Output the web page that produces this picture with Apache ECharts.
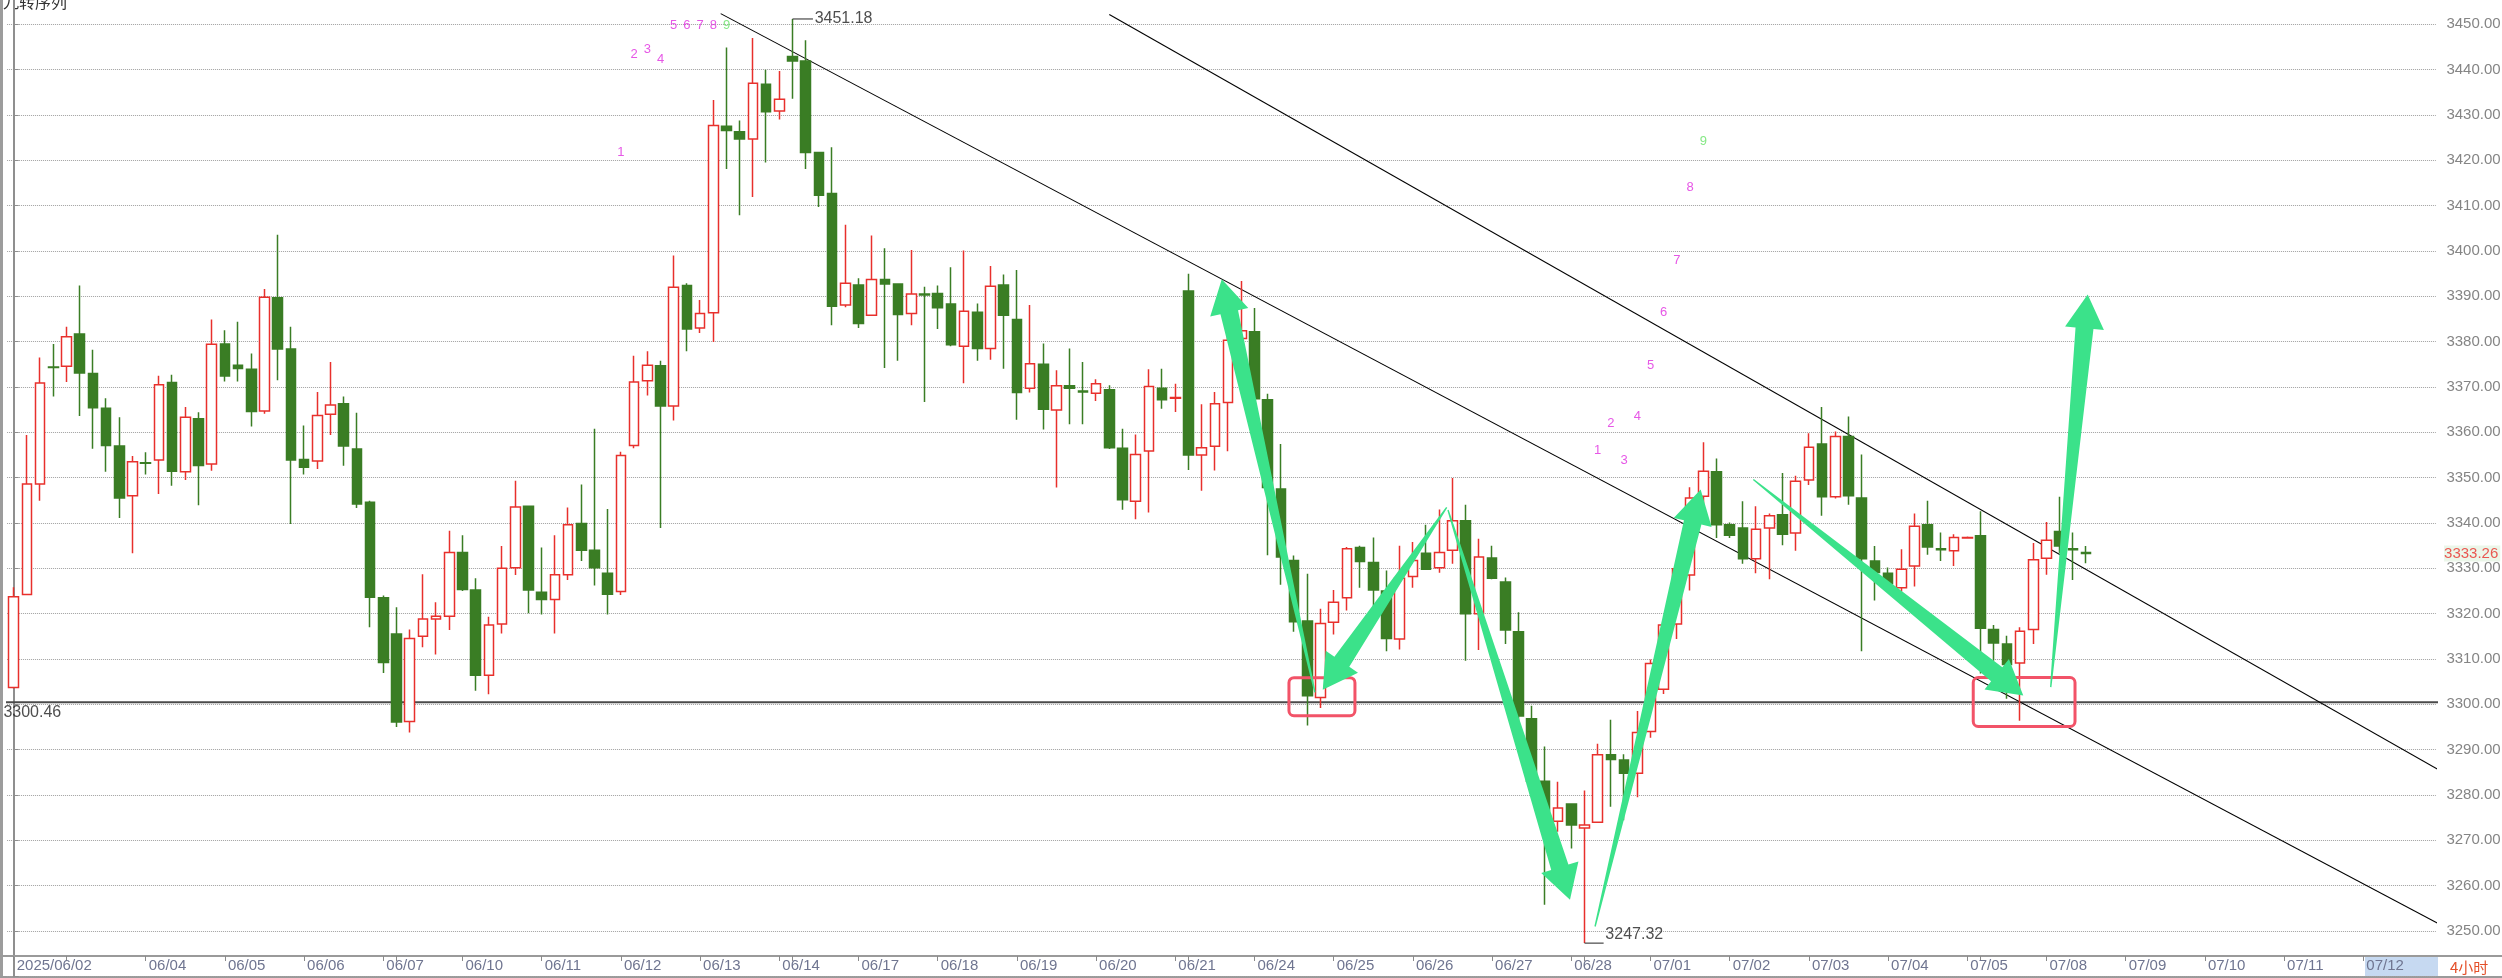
<!DOCTYPE html>
<html><head><meta charset="utf-8">
<script src="https://cdn.jsdelivr.net/npm/echarts@6/dist/echarts.min.js"></script>
<style>html,body{margin:0;padding:0;background:#fff;overflow:hidden}#c{width:2502px;height:978px}</style>
</head><body><div id="c"></div>
<script>
// ---- data (4-hour candles) ----
const opens = [3303.7,3324.2,3348.6,3374.4,3374.6,3381.7,3373.0,3365.3,3357.0,3346.0,
3353.3,3353.9,3371.0,3351.3,3363.0,3353.0,3379.5,3374.8,3373.9,3364.7,
3389.7,3378.4,3354.0,3353.7,3364.0,3366.3,3356.3,3344.6,3323.5,3315.5,
3296.2,3315.0,3318.8,3319.4,3333.5,3325.2,3306.4,3317.7,3330.1,3343.7,
3324.7,3323.1,3328.6,3339.9,3334.0,3328.9,3324.9,3357.1,3371.4,3374.7,
3365.8,3392.4,3383.0,3386.4,3427.5,3426.3,3424.7,3436.8,3430.9,3442.9,
3441.9,3421.7,3412.7,3388.1,3392.5,3385.8,3393.7,3392.7,3386.2,3390.5,
3390.6,3388.3,3379.0,3386.5,3378.5,3392.5,3384.9,3369.7,3375.0,3364.9,
3370.3,3369.1,3368.6,3369.4,3356.5,3344.8,3355.9,3369.7,3367.5,3391.2,
3355.0,3356.9,3366.6,3380.7,3382.2,3367.2,3347.5,3331.7,3318.4,3301.5,
3318.1,3323.5,3334.6,3331.3,3325.0,3314.4,3328.2,3333.3,3330.1,3334.0,
3340.5,3320.0,3332.3,3327.0,3316.0,3296.8,3283.0,3274.2,3278.0,3272.7,
3274.0,3288.9,3287.7,3284.8,3294.0,3303.3,3317.7,3328.5,3345.9,3351.3,
3339.6,3338.9,3332.1,3338.9,3341.8,3337.8,3349.5,3357.4,3345.8,3359.1,
3345.5,3331.6,3328.9,3325.7,3330.5,3339.6,3334.3,3333.9,3336.7,3337.2,
3316.5,3313.3,3309.1,3316.5,3332.2,3338.1,3334.3,3333.5];
const closes = [3323.7,3348.6,3370.9,3374.3,3381.1,3373.1,3365.4,3357.1,3345.5,3353.5,
3353.2,3370.5,3351.4,3363.3,3352.7,3379.4,3372.4,3374.1,3364.6,3389.8,
3378.4,3353.9,3352.3,3363.7,3366.0,3357.0,3344.2,3323.6,3309.2,3296.1,
3314.5,3318.8,3319.4,3333.5,3325.3,3306.4,3317.5,3330.0,3343.5,3325.2,
3323.1,3328.6,3339.6,3334.0,3330.1,3324.3,3354.9,3371.1,3374.8,3365.8,
3392.0,3382.8,3386.2,3427.7,3426.6,3424.7,3437.0,3430.7,3433.5,3441.9,
3421.7,3412.3,3387.8,3392.9,3384.0,3393.7,3392.7,3386.0,3390.5,3390.3,
3387.5,3379.3,3386.7,3378.5,3392.2,3385.8,3368.8,3375.1,3365.1,3370.3,
3369.7,3368.9,3370.7,3356.6,3345.1,3355.1,3370.1,3367.2,3367.7,3355.0,
3356.6,3366.3,3380.3,3382.4,3367.4,3347.8,3332.5,3318.2,3301.9,3317.8,
3322.5,3334.3,3331.5,3325.2,3314.5,3327.8,3331.7,3329.8,3333.5,3340.5,
3320.0,3332.5,3327.8,3316.4,3297.4,3283.0,3276.5,3277.1,3273.4,3273.4,
3288.9,3287.8,3284.8,3293.8,3309.0,3317.5,3329.9,3345.5,3351.4,3339.6,
3337.3,3332.1,3338.6,3341.6,3337.5,3349.2,3356.7,3345.8,3359.1,3346.0,
3332.1,3329.1,3326.6,3329.8,3339.3,3334.7,3334.1,3336.8,3336.8,3316.8,
3313.5,3308.8,3316.1,3331.9,3336.2,3334.9,3334.1,3333.26];
const lows = [3303.5,3324.2,3344.9,3367.9,3371.1,3363.6,3356.4,3351.3,3341.1,3333.3,
3350.7,3346.4,3348.2,3349.5,3343.9,3351.5,3371.2,3371.2,3361.3,3364.1,
3371.5,3339.8,3350.7,3351.9,3359.4,3352.6,3343.3,3317.0,3306.9,3295.0,
3293.8,3312.6,3311.0,3316.4,3325.0,3303.0,3302.2,3315.6,3328.5,3320.1,
3319.8,3315.6,3327.4,3331.6,3326.2,3319.8,3324.1,3356.5,3368.1,3338.9,
3362.6,3377.9,3381.9,3379.9,3418.1,3407.9,3411.9,3419.5,3429.0,3433.6,
3418.1,3409.7,3383.6,3387.6,3383.0,3385.8,3374.2,3375.8,3383.6,3366.7,
3382.8,3379.0,3370.8,3375.8,3376.0,3374.0,3362.8,3368.8,3360.6,3347.8,
3361.8,3361.8,3366.9,3356.3,3342.9,3340.8,3342.3,3365.2,3364.5,3351.7,
3347.1,3351.6,3355.8,3380.7,3367.2,3332.9,3326.4,3316.0,3295.3,3299.2,
3315.4,3320.7,3325.7,3321.5,3311.7,3312.1,3325.7,3329.7,3329.0,3331.0,
3309.6,3312.0,3327.6,3313.3,3296.0,3281.0,3255.8,3271.9,3268.2,3247.32,
3274.0,3277.4,3274.4,3279.5,3292.6,3302.3,3314.4,3325.1,3344.0,3336.7,
3336.7,3331.0,3328.9,3327.6,3335.1,3333.9,3348.4,3341.6,3345.4,3344.0,
3311.7,3322.9,3324.9,3324.9,3326.0,3333.0,3331.6,3330.5,3336.6,3306.8,
3309.6,3301.2,3296.4,3313.3,3328.6,3333.3,3327.4,3331.1];
const highs = [3325.8,3359.4,3376.5,3379.5,3383.3,3392.4,3378.2,3367.5,3363.3,3354.8,
3355.6,3372.5,3372.7,3365.6,3364.4,3384.9,3382.5,3384.4,3377.4,3391.6,
3403.6,3383.3,3361.5,3368.9,3375.5,3367.9,3364.3,3344.9,3324.0,3321.4,
3316.5,3328.7,3322.5,3338.3,3337.3,3327.8,3319.3,3334.9,3349.3,3343.7,
3334.6,3337.3,3343.4,3348.5,3360.8,3343.1,3355.7,3376.9,3377.9,3375.8,
3399.0,3392.9,3389.2,3433.3,3444.9,3428.8,3447.0,3440.0,3439.7,3451.18,
3446.5,3421.7,3422.9,3405.8,3394.0,3403.4,3400.6,3392.7,3400.2,3392.1,
3392.4,3396.4,3400.1,3388.4,3396.7,3394.8,3395.8,3388.1,3379.6,3373.7,
3378.5,3375.5,3371.7,3370.4,3360.8,3359.5,3373.9,3374.0,3370.7,3395.0,
3366.2,3368.9,3384.0,3393.4,3387.4,3368.5,3357.4,3332.8,3328.8,3321.1,
3325.2,3334.7,3335.0,3336.8,3329.5,3335.0,3335.8,3339.6,3343.0,3349.9,
3344.0,3336.5,3335.0,3328.0,3320.3,3299.7,3290.7,3282.9,3278.2,3281.0,
3291.3,3296.6,3289.0,3298.5,3309.9,3318.1,3330.6,3347.9,3357.8,3354.2,
3340.1,3344.8,3343.7,3342.1,3351.0,3350.4,3359.8,3365.6,3360.2,3363.5,
3355.1,3334.9,3330.2,3334.2,3342.1,3344.9,3337.9,3337.5,3337.0,3342.6,
3317.5,3315.1,3317.0,3335.6,3340.2,3345.8,3337.9,3334.9];

// day labels: day k starts at candle index 4 + 6k (day 0 label hidden under the first label)
const firstLabel = '2025/06/02';
const dayLabels = ['06/03','06/04','06/05','06/06','06/07','06/10','06/11','06/12','06/13','06/14',
'06/17','06/18','06/19','06/20','06/21','06/24','06/25','06/26','06/27','06/28',
'07/01','07/02','07/03','07/04','07/05','07/08','07/09','07/10','07/11','07/12'];
const weekTicks = [29, 59, 89, 119, 149];
const SLOTS = 184;

// nine-turn sequence numbers: [candle index, value, text]
const tdSeq1 = [[46,3421.8,'1'],[47,3443.4,'2'],[48,3444.5,'3'],[49,3442.3,'4'],[50,3449.7,'5'],[51,3449.7,'6'],[52,3449.7,'7'],[53,3449.7,'8'],[54,3449.7,'9']];
const tdSeq2 = [[120,3356.1,'1'],[121,3362.0,'2'],[122,3353.9,'3'],[123,3363.6,'4'],[124,3374.8,'5'],[125,3386.5,'6'],[126,3397.85,'7'],[127,3413.95,'8'],[128,3424.1,'9']];

// trend lines [[x0,y0],[x1,y1]] in (candle index, price)
const trendA = [[53.56,3452.36],[183.81,3251.41]];
const trendB = [[83.0,3452.16],[183.81,3285.4]];
const supportLevel = 3300.46;
const highMark = {idx:59, value:3451.18};
const lowMark = {idx:119, value:3247.32};
const lastPrice = 3333.26;

// arrows [tailIdx, tailPrice, tipIdx, tipPrice]
const arrows = [
  [98.58,3302.62,91.52,3393.79],
  [108.56,3343.43,99.17,3303.19],
  [108.66,3342.85,117.9,3256.9],
  [119.8,3250.99,127.8,3347.4],
  [131.79,3349.6,152.24,3301.93],
  [154.32,3303.78,157.12,3390.42]
];
// highlight boxes [idx0, price0, idx1, price1]
const boxes = [
  [96.61,3305.88,101.61,3297.47],
  [148.45,3305.92,156.16,3295.13]
];

// ---- build ----
const cats = [];
for (let i = 0; i < SLOTS; i++) cats.push(String(i));
const labelAt = {0: firstLabel};
const tickSet = new Set([0]);
dayLabels.forEach((d, k) => { const idx = 4 + 6 * k; tickSet.add(idx); if (k > 0) labelAt[idx] = d; });
weekTicks.forEach(i => tickSet.add(i));
const candleData = opens.map((o, i) => [o, closes[i], lows[i], highs[i]]);

const FONT = '"Liberation Sans", Arial, sans-serif';
const ARROW = '#3be28a';

function arrowRender(params, api) {
  const p0 = api.coord([api.value(0), api.value(1)]);
  const p1 = api.coord([api.value(2), api.value(3)]);
  const dx = p1[0] - p0[0], dy = p1[1] - p0[1];
  const len = Math.hypot(dx, dy);
  const ux = dx / len, uy = dy / len, nx = -uy, ny = ux;
  const headLen = 34, headW = 19.5, neckW = 9, tailW = 0.7;
  const bx = p1[0] - ux * headLen, by = p1[1] - uy * headLen;
  const pts = [
    [p0[0] + nx * tailW, p0[1] + ny * tailW],
    [bx + nx * neckW, by + ny * neckW],
    [bx + nx * headW, by + ny * headW],
    [p1[0], p1[1]],
    [bx - nx * headW, by - ny * headW],
    [bx - nx * neckW, by - ny * neckW],
    [p0[0] - nx * tailW, p0[1] - ny * tailW]
  ];
  return {type: 'polygon', shape: {points: pts}, style: {fill: ARROW}};
}
function boxRender(params, api) {
  const a = api.coord([api.value(0), api.value(1)]);
  const b = api.coord([api.value(2), api.value(3)]);
  return {type: 'rect', shape: {x: a[0], y: a[1], width: b[0] - a[0], height: b[1] - a[1], r: 5},
    style: {fill: 'transparent', stroke: '#f25368', lineWidth: 3}};
}
function tdSeries(data) {
  return {type: 'scatter', xAxisIndex: 1, yAxisIndex: 0, symbolSize: 0, clip: false, silent: true, z: 6,
    data: data.map(d => ({value: [d[0], d[1]], label: {color: d[2] === '9' ? '#66e266' : '#e02de0'}, name: d[2]})),
    label: {show: true, position: 'inside', formatter: p => p.name, fontSize: 13, fontFamily: FONT}};
}
function seg(points, color, width, z) {
  return {type: 'line', xAxisIndex: 1, yAxisIndex: 0, data: points, symbol: 'none', clip: false, silent: true,
    lineStyle: {color: color, width: width}, z: z || 3};
}
function textPoint(x, y, text, opt) {
  return {type: 'scatter', xAxisIndex: 1, yAxisIndex: 0, symbolSize: 0, clip: false, silent: true, z: 8,
    data: [[x, y]],
    label: Object.assign({show: true, position: 'right', distance: 0, formatter: text, fontFamily: FONT}, opt)};
}

const chart = echarts.init(document.getElementById('c'), null, {renderer: 'canvas'});
chart.setOption({
  animation: false,
  backgroundColor: '#ffffff',
  grid: {left: 7.1, top: -21.0, width: 2428.8, height: 997.3, containLabel: false, outerBoundsMode: 'none'},
  xAxis: [
    {type: 'category', data: cats, boundaryGap: true, offset: -20.3,
      axisLine: {show: true, lineStyle: {color: '#9a9a9a', width: 2}},
      axisTick: {show: true, alignWithLabel: true, length: 5, interval: i => tickSet.has(i), lineStyle: {color: '#8a8a8a'}},
      axisLabel: {interval: i => labelAt[i] !== undefined, formatter: (v, i) => labelAt[i] || '', align: 'left',
        color: '#6f7590', fontSize: 15, fontFamily: FONT, margin: 2, padding: [0, 0, 0, 3]},
      splitLine: {show: false}},
    {type: 'value', min: -0.5, max: SLOTS - 0.5, show: false}
  ],
  yAxis: {type: 'value', position: 'right', min: 3240, max: 3460, interval: 10, offset: 4.5,
    axisLine: {show: true, lineStyle: {color: '#8f8f8f', width: 2}},
    axisTick: {show: true, length: 5, lineStyle: {color: '#8f8f8f'}},
    axisLabel: {color: '#858585', fontSize: 15, fontFamily: FONT, margin: 6,
      formatter: v => (v < 3245 || v > 3455) ? '' : v.toFixed(2)},
    splitLine: {show: true, lineStyle: {color: '#a0a0a0', type: [1, 1], width: 1}}},
  series: [
    {type: 'candlestick', xAxisIndex: 0, yAxisIndex: 0, barWidth: 10, data: candleData, z: 4,
      itemStyle: {color: '#ffffff', color0: '#3a7d24', borderColor: '#e8302c', borderColor0: '#3a7d24', borderWidth: 1.5}},
    seg([[-0.81, supportLevel], [183.8, supportLevel]], '#4a4a4a', 2, 2),
    seg(trendA, '#000000', 1.1, 3),
    seg(trendB, '#000000', 1.1, 3),
    seg([[highMark.idx, highMark.value], [highMark.idx + 1.55, highMark.value]], '#222222', 1, 5),
    seg([[lowMark.idx, lowMark.value], [lowMark.idx + 1.45, lowMark.value]], '#222222', 1, 5),
    textPoint(highMark.idx + 1.68, highMark.value, String(highMark.value), {fontSize: 16, color: '#222'}),
    textPoint(lowMark.idx + 1.58, lowMark.value + 1.9, String(lowMark.value), {fontSize: 16, color: '#222'}),
    textPoint(-0.78, supportLevel - 2.2, String(supportLevel), {fontSize: 16, color: '#222'}),
    textPoint(184.12, lastPrice, lastPrice.toFixed(2), {fontSize: 15, color: '#e8302a', backgroundColor: '#e6f4e4', padding: [1, 2, 0, 0]}),
    tdSeries(tdSeq1),
    tdSeries(tdSeq2),
    {type: 'custom', xAxisIndex: 1, yAxisIndex: 0, renderItem: boxRender, data: boxes, z: 9, silent: true, clip: false},
    {type: 'custom', xAxisIndex: 1, yAxisIndex: 0, renderItem: arrowRender, data: arrows, z: 10, silent: true, clip: false}
  ],
  graphic: [
    {type: 'rect', z: -1, shape: {x: 2365, y: 957, width: 73, height: 19}, style: {fill: '#c6d9f1'}},
    {type: 'rect', shape: {x: 0, y: 0, width: 3, height: 978}, style: {fill: '#9c9c9c'}},
    {type: 'line', shape: {x1: 0, y1: 956, x2: 2502, y2: 956}, style: {stroke: '#9a9a9a', lineWidth: 2}},
    {type: 'line', shape: {x1: 0, y1: 977, x2: 2502, y2: 977}, style: {stroke: '#9a9a9a', lineWidth: 2}},
    {type: 'text', x: 2450, y: 967, style: {text: '4小时', fill: '#e4502a', font: '15px "Noto Sans CJK SC"', verticalAlign: 'middle'}},
    {type: 'text', x: 3, y: 2, style: {text: '九转序列', fill: '#333333', font: '16px "Noto Sans CJK SC"', verticalAlign: 'middle'}}
  ]
});
</script>
</body></html>
